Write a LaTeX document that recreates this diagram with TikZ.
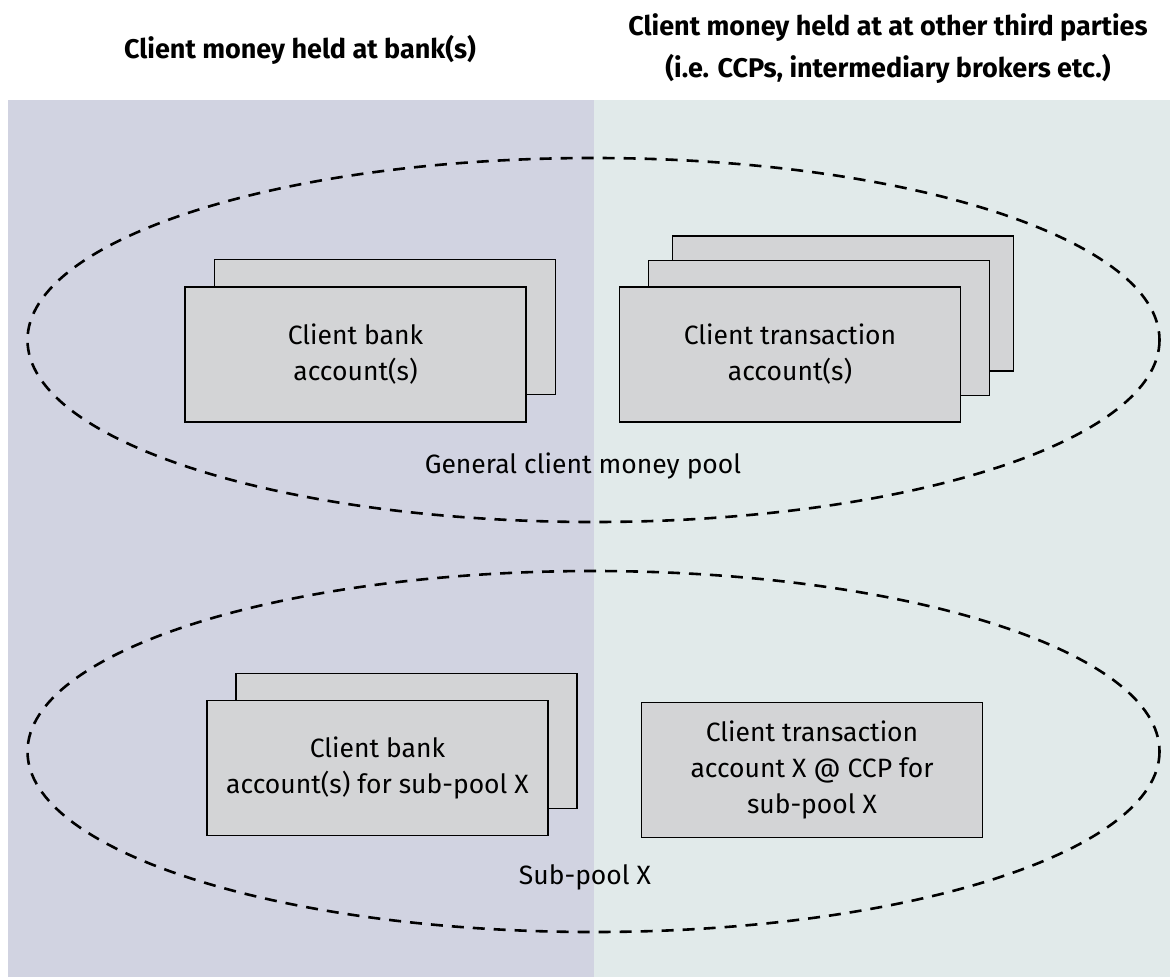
\documentclass[tikz,border=0pt]{standalone}
\usepackage{fontspec}
\setmainfont{Fira Sans}
\usetikzlibrary{positioning}

\definecolor{bankside}{HTML}{D1D3E1}
\definecolor{otherside}{HTML}{E1EAEA}
\definecolor{acctgray}{HTML}{D3D4D6}

\begin{document}
\begin{tikzpicture}[x=1pt,y=-1pt,
	acct/.style={draw, fill=acctgray, line width=1.8pt, minimum width=341pt, minimum height=135pt, inner sep=0pt, align=center, font=\fontsize{26.5}{36}\selectfont},
	pool/.style={line width=2.6pt, dash pattern=on 12pt off 9pt},
	head/.style={align=center, font=\bfseries\fontsize{27}{42}\selectfont},
	label/.style={font=\fontsize{26.5}{36}\selectfont}]
		\useasboundingbox (0,0) rectangle (1170,977);
		% two sides
		\fill[bankside] (8,100) rectangle (594,977);
		\fill[otherside] (594,100) rectangle (1170,977);

		\node[head] (hbank) at (300,50) {Client money held at bank(s)};
		\node[head] (hother) at (888,49) {Client money held at at other third parties\\(i.e. CCPs, intermediary brokers etc.)};

		% general pool
		\draw[pool] (593.5,340) ellipse [x radius=566, y radius=182];
		\node[acct] (bankback) at (385,327) {};
		\node[acct] (bank) at (355.5,354.5) {Client bank\\account(s)};
		\node[acct] (transback) at (843,303.5) {};
		\node[acct] (transmid) at (819,328) {};
		\node[acct] (trans) at (790,354.5) {Client transaction\\account(s)};
		\node[label] (general) at (583,466) {General client money pool};

		% sub-pool
		\draw[pool] (593.5,751.5) ellipse [x radius=566, y radius=180.5];
		\node[acct] (subbankback) at (406.5,741) {};
		\node[acct] (subbank) at (377.5,768) {Client bank\\account(s) for sub-pool X};
		\node[acct] (subtrans) at (812,770) {Client transaction\\account X @ CCP for\\sub-pool X};
		\node[label] (subpool) at (585,877) {Sub-pool X};
	\end{tikzpicture}
\end{document}
